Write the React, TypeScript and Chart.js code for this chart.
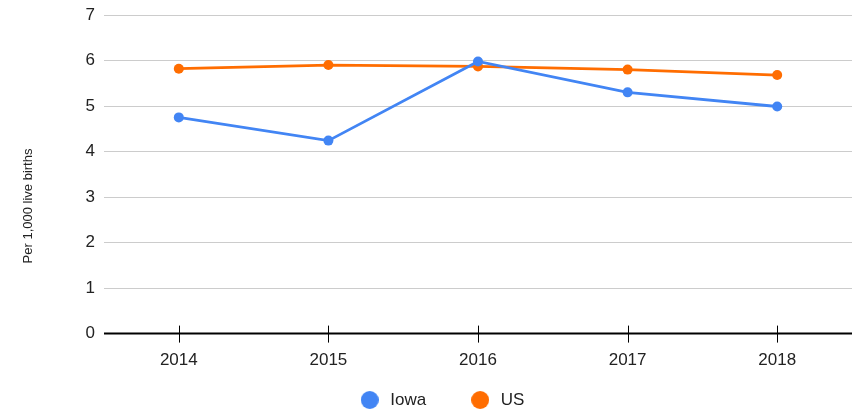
import React, { useEffect, useRef } from "react";
import { Chart, registerables } from "chart.js";

Chart.register(...registerables);

const years = ["2014", "2015", "2016", "2017", "2018"];
const iowa = [4.75, 4.24, 5.98, 5.3, 4.99];
const us = [5.82, 5.9, 5.87, 5.8, 5.68];
const yTicks = [0, 1, 2, 3, 4, 5, 6, 7];
const yTitle = "Per 1,000 live births";

const FONT = "'Liberation Sans', Arial, sans-serif";
const TEXT = "#222222";
const PLOT_TOP = 15;

function makeDot(color: string, d: number) {
  const c = document.createElement("canvas");
  c.width = d;
  c.height = d;
  const ctx = c.getContext("2d")!;
  ctx.fillStyle = color;
  ctx.beginPath();
  ctx.arc(d / 2, d / 2, d / 2, 0, Math.PI * 2);
  ctx.fill();
  return c;
}

const decor = {
  id: "decor",
  afterLayout(chart: any) {
    const lg = chart.legend;
    if (lg) {
      const dy = 400 - (lg.top + lg.options.labels.padding + 8.5);
      lg.left += 15;
      lg.right += 15;
      lg.top += dy;
      lg.bottom += dy;
    }
    const area = chart.chartArea;
    const d = area.top - PLOT_TOP;
    if (d > 0) {
      area.top = PLOT_TOP;
      area.height += d;
      const y = chart.scales.y;
      y.top = PLOT_TOP;
      y.height = y.bottom - y.top;
      y.configure();
    }
  },
  afterDraw(chart: any) {
    const x = chart.scales.x;
    const ctx = chart.ctx;
    const yPix = chart.chartArea.bottom;
    ctx.save();
    ctx.strokeStyle = "#000";
    ctx.lineWidth = 1;
    x.ticks.forEach((_t: any, i: number) => {
      const px = Math.round(x.getPixelForTick(i)) + 0.5;
      ctx.beginPath();
      ctx.moveTo(px, yPix - 8);
      ctx.lineTo(px, yPix + 9);
      ctx.stroke();
    });
    ctx.beginPath();
    ctx.lineWidth = 2;
    ctx.moveTo(chart.chartArea.left, yPix);
    ctx.lineTo(chart.chartArea.right, yPix);
    ctx.stroke();
    ctx.translate(28, chart.height / 2);
    ctx.rotate(-Math.PI / 2);
    ctx.fillStyle = TEXT;
    ctx.font = `13px ${FONT}`;
    ctx.textAlign = "center";
    ctx.textBaseline = "middle";
    ctx.fillText(yTitle, 0, 0);
    ctx.restore();
  },
};

export default function App() {
  const ref = useRef<HTMLCanvasElement>(null);
  useEffect(() => {
    if (!ref.current) return;
    const chart = new Chart(ref.current, {
      type: "line",
      data: {
        labels: years,
        datasets: [
          {
            label: "Iowa",
            data: iowa,
            borderColor: "#4285F4",
            backgroundColor: "#4285F4",
            borderWidth: 2.8,
            pointRadius: 5,
            pointHoverRadius: 5,
            pointBorderWidth: 0,
            tension: 0,
          },
          {
            label: "US",
            data: us,
            borderColor: "#FF6D01",
            backgroundColor: "#FF6D01",
            borderWidth: 2.8,
            pointRadius: 5,
            pointHoverRadius: 5,
            pointBorderWidth: 0,
            tension: 0,
          },
        ],
      },
      options: {
        animation: false,
        responsive: false,
        maintainAspectRatio: false,
        layout: { padding: { left: 0, right: 10, top: 0, bottom: -45 } },
        plugins: {
          tooltip: { enabled: false },
          legend: {
            position: "bottom",
            labels: {
              usePointStyle: true,
              pointStyleWidth: 24,
              boxHeight: 13,
              padding: 42,
              color: TEXT,
              font: { family: FONT, size: 17 },
              generateLabels(ch: any) {
                const items = Chart.defaults.plugins.legend.labels.generateLabels(ch);
                return items.map((it: any) => ({
                  ...it,
                  pointStyle: makeDot(it.fillStyle as string, 18),
                }));
              },
            },
          },
        },
        scales: {
          x: {
            offset: true,
            grid: { display: false, drawTicks: false },
            border: { display: false },
            ticks: { color: TEXT, font: { family: FONT, size: 17 }, padding: 17 },
          },
          y: {
            min: 0,
            max: 7,
            afterFit(scale: any) {
              scale.width = 104;
            },
            afterBuildTicks(scale: any) {
              scale.ticks = yTicks.map((v) => ({ value: v }));
            },
            grid: { color: "#cccccc", drawTicks: false, lineWidth: 1 },
            border: { display: false },
            ticks: { color: TEXT, font: { family: FONT, size: 17 }, padding: 9 },
          },
        },
      },
      plugins: [decor],
    });
    return () => chart.destroy();
  }, []);
  return (
    <div style={{ position: "absolute", left: 0, top: 0, width: 862, height: 412 }}>
      <canvas ref={ref} width={862} height={412} style={{ display: "block" }} />
    </div>
  );
}
